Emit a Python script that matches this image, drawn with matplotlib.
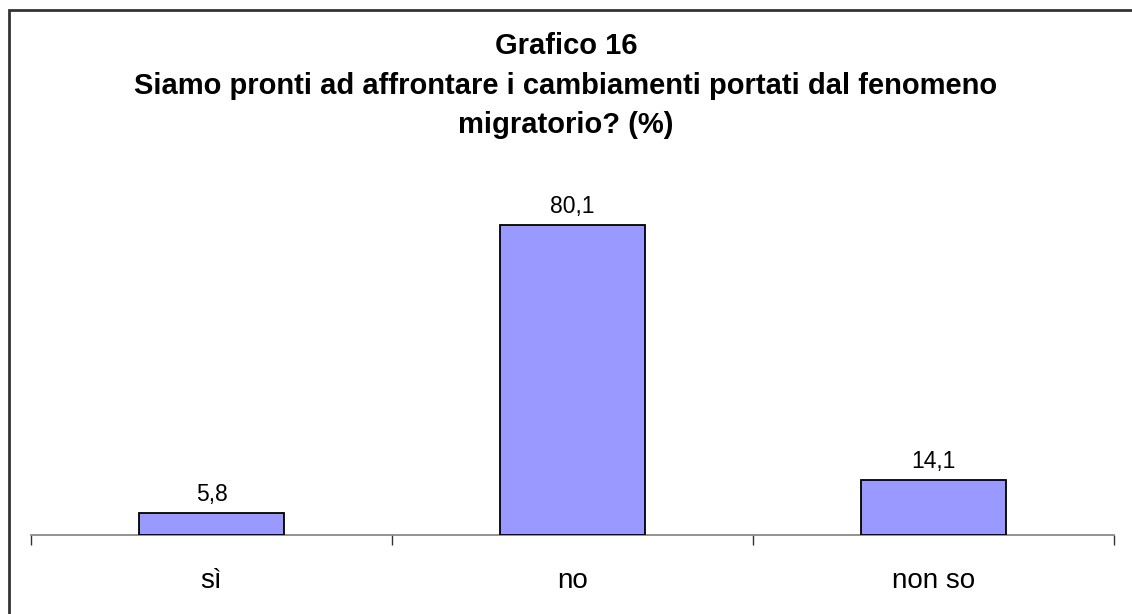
import matplotlib.pyplot as plt
from matplotlib.patches import Rectangle

categories = ['sì', 'no', 'non so']
values = [5.8, 80.1, 14.1]
title_lines = ['Grafico 16',
               'Siamo pronti ad affrontare i cambiamenti portati dal fenomeno',
               'migratorio? (%)']

W, H = 1132, 614
fig = plt.figure(figsize=(W / 100, H / 100), dpi=100)
plt.rcParams['font.family'] = ['Liberation Sans', 'DejaVu Sans']

# outer frame (only top and left edges fall inside the picture)
fig.patches.append(Rectangle((9 / W, -0.1), 1.2, (H - 10) / H + 0.1,
                             transform=fig.transFigure, fill=False,
                             edgecolor='#333333', linewidth=2))

# plot area: x from 31 to 1114 px, baseline at y=535, ymax 90
left, right, base = 31, 1114, 535
ymax = 90
px_per_unit = 3.87
top = base - ymax * px_per_unit
ax = fig.add_axes([left / W, (H - base) / H, (right - left) / W, (base - top) / H])

x = range(len(categories))
ax.bar(x, values, width=0.4, color='#9999FF', edgecolor='black', linewidth=1.3, zorder=3)

for xi, v in zip(x, values):
    ax.annotate(f'{v:.1f}'.replace('.', ','), (xi, v), xytext=(0, 5),
                textcoords='offset points', ha='center', va='bottom', fontsize=16.5)

ax.set_xlim(-0.5, 2.5)
ax.set_ylim(0, ymax)
ax.set_yticks([])
for s in ['top', 'right', 'left']:
    ax.spines[s].set_visible(False)
ax.spines['bottom'].set_color('#808080')
ax.spines['bottom'].set_linewidth(1.2)

ax.set_xticks(list(x))
ax.set_xticklabels(categories, fontsize=20)
ax.tick_params(axis='x', which='major', length=0, pad=24)
ax.set_xticks([-0.5, 0.5, 1.5, 2.5], minor=True)
ax.tick_params(axis='x', which='minor', length=7, width=1, color='#333333')

ys = [46, 86, 125]
for line, y in zip(title_lines, ys):
    fig.text(0.5, 1 - y / H, line, ha='center', va='center',
             fontsize=21, fontweight='bold')

fig.savefig('out.png', dpi=100)
